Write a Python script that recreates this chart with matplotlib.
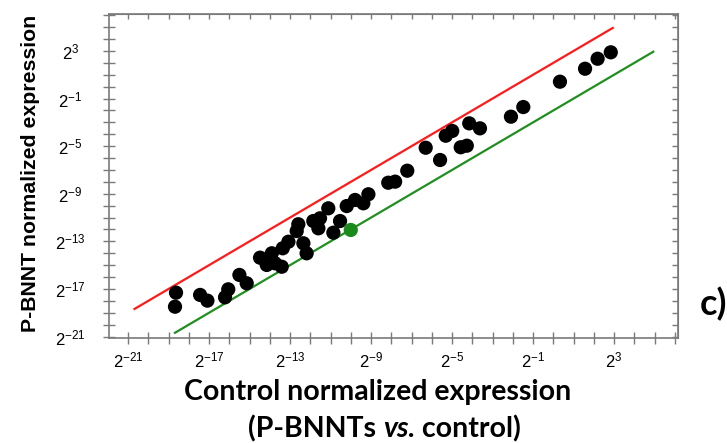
import numpy as np
import matplotlib
matplotlib.use("Agg")
import matplotlib.pyplot as plt

plt.rcParams['font.family'] = ['Liberation Sans', 'DejaVu Sans']
plt.rcParams['mathtext.fontset'] = 'custom'
plt.rcParams['mathtext.rm'] = 'Liberation Sans'
plt.rcParams['mathtext.it'] = 'Liberation Sans:italic'
plt.rcParams['mathtext.bf'] = 'Liberation Sans:bold'

# log2 normalized expression values
control = [2.84, 2.19, 1.57, 0.33, -1.48, -2.09, -3.62, -4.15, -4.99, -5.31,
           -4.27, -4.57, -6.30, -5.59, -7.21, -7.81, -8.15, -9.13, -9.38, -9.79,
           -10.20, -11.11, -10.53, -10.86, -11.52, -11.85, -11.60, -12.59, -12.67, -13.08,
           -12.34, -12.18, -13.36, -13.90, -14.48, -14.15, -13.74, -13.41, -15.50, -15.14,
           -16.05, -16.21, -17.44, -17.08, -18.63, -18.68]
pbnnt = [2.89, 2.35, 1.51, 0.42, -1.71, -2.52, -3.50, -3.08, -3.72, -4.12,
         -4.96, -5.09, -5.13, -6.16, -7.06, -7.98, -8.07, -9.04, -9.80, -9.52,
         -10.03, -10.22, -11.29, -12.27, -11.06, -11.29, -11.90, -11.56, -12.13, -13.03,
         -13.16, -14.00, -13.58, -14.00, -14.37, -14.98, -14.84, -15.13, -15.82, -16.52,
         -17.03, -17.70, -17.50, -17.98, -17.31, -18.49]

# the one gene drawn in green
green_control = [-10.0]
green_pbnnt = [-12.04]

# fold change boundary (log2) and the range the boundary lines cover
fold = 2
line_lo, line_hi = -20.68, 4.94

tick_exps = [-21, -17, -13, -9, -5, -1, 3]
all_ticks = np.arange(-21, 7)

fig = plt.figure(figsize=(7.27, 4.43), dpi=100)
ax = fig.add_axes([109 / 727, 1 - 338 / 443, (678 - 109) / 727, (338 - 14) / 443])

ax.set_xlim(-21.94, 6.16)
ax.set_ylim(-21.12, 6.11)

# threshold lines
rx = np.array([line_lo, line_hi - fold])
gx = np.array([line_lo + fold, line_hi])
ax.plot(rx, rx + fold, color='#ff1a1a', lw=1.6, zorder=2)
ax.plot(gx, gx - fold, color='#1f8f1f', lw=1.6, zorder=2)

ax.scatter(control, pbnnt, s=105, color='black', edgecolors='none', zorder=3)
ax.scatter(green_control, green_pbnnt, s=105, color='#1a8a1a', edgecolors='none', zorder=3)

gray = '#7a7a7a'
for sp in ax.spines.values():
    sp.set_color(gray)
    sp.set_linewidth(1.2)

labels = ['$\\mathregular{2^{%d}}$' % t if t in tick_exps else '' for t in all_ticks]
ax.set_xticks(all_ticks, labels=labels)
ax.set_yticks(all_ticks, labels=labels)
ax.tick_params(axis='both', direction='inout', length=8.6, width=1.0, color=gray,
               labelsize=12)
ax.tick_params(axis='x', pad=4.5)
ax.tick_params(axis='y', pad=23.5)
for lbl in ax.get_yticklabels():
    lbl.set_ha('center')

# short inward ticks on top and right
top = ax.secondary_xaxis('top')
top.set_xticks(all_ticks, labels=[])
top.tick_params(direction='in', length=3.5, width=1.0, color=gray)
top.spines['top'].set_color(gray)
right = ax.secondary_yaxis('right')
right.set_yticks(all_ticks, labels=[])
right.tick_params(direction='in', length=4.5, width=1.0, color=gray)
right.spines['right'].set_color(gray)

fig.text(31 / 727, 1 - 173 / 443, 'P-BNNT normalized expression', rotation=90,
         ha='center', va='center', fontsize=15.3, fontweight='bold')

lab_font = ['Lato', 'DejaVu Sans']
lab_size = 20.5
fig.text(378 / 727, 1 - 400 / 443, 'Control normalized expression', ha='center',
         va='baseline', fontsize=lab_size, fontweight='bold', family=lab_font)
t1 = fig.text(248 / 727, 1 - 437 / 443, '(P-BNNTs ', ha='left', va='baseline',
              fontsize=lab_size, fontweight='bold', family=lab_font)
t2 = ax.annotate('vs.', xy=(1, 0), xycoords=t1, ha='left', va='bottom', fontsize=lab_size,
                 fontweight='bold', fontstyle='italic', family=lab_font,
                 annotation_clip=False)
ax.annotate(' control)', xy=(1, 0), xycoords=t2, ha='left', va='bottom', fontsize=lab_size,
            fontweight='bold', family=lab_font, annotation_clip=False)

fig.text(700 / 727, 1 - 315 / 443, 'c)', ha='left', va='baseline', fontsize=26,
         fontweight='bold', family=lab_font)

fig.savefig('out.png', dpi=100)
